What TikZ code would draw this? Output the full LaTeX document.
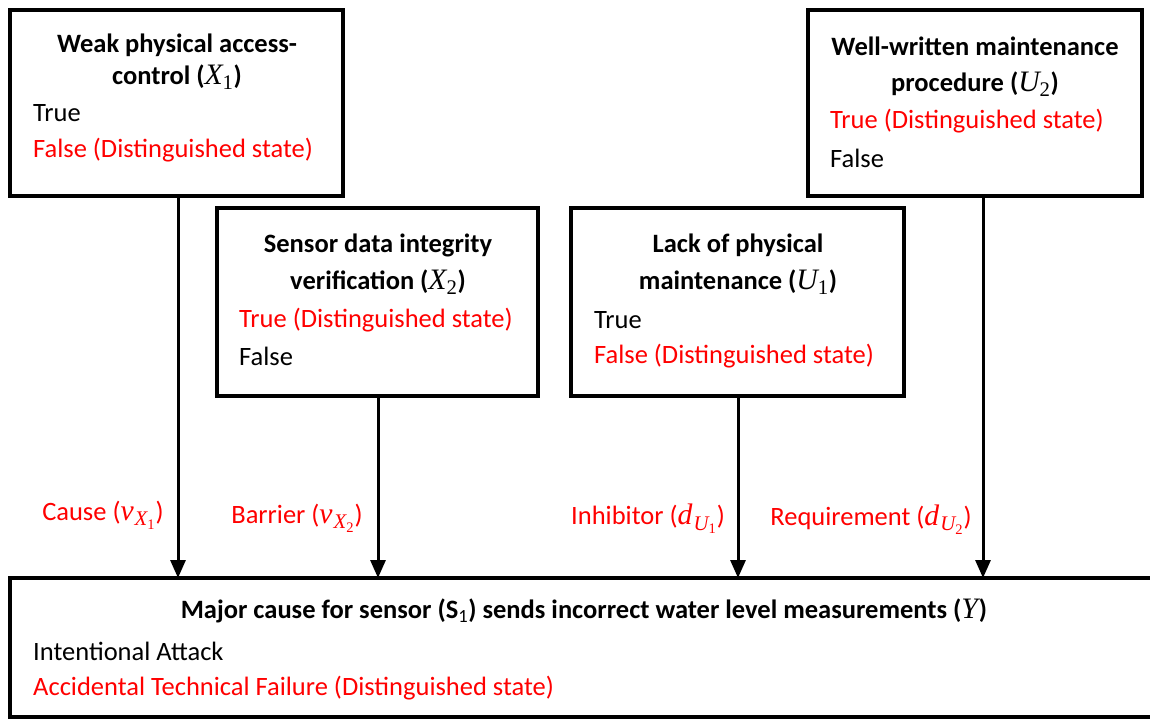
\documentclass[tikz,border=0pt]{standalone}
\usepackage{fontspec}
\setmainfont{Carlito}
\newfontfamily\cmbf[Scale=1.12]{Liberation Serif}
\usetikzlibrary{arrows.meta}
\definecolor{lblred}{RGB}{255,0,0}
\newcommand\mi[1]{{\cmbf\mdseries\itshape #1}}
\newcommand\mn[1]{{\cmbf\mdseries\upshape #1}}
\newcommand\mvar[2]{\mi{#1}\textsubscript{\mn{#2}}}
\newcommand\mvv[3]{\mi{#1}\kern1pt\textsubscript{\mi{#2}\textsubscript{\mn{#3}}}}
\begin{document}
\begin{tikzpicture}[x=1pt,y=-1pt,
  box/.style={draw=black,line width=4pt},
  ttl/.style={font=\fontsize{26.5}{30}\selectfont\bfseries,inner sep=0pt,anchor=center},
  st/.style={font=\fontsize{26.5}{30}\selectfont,inner sep=0pt,anchor=west},
  red/.style={text=lblred},
  lbl/.style={font=\fontsize{26.5}{30}\selectfont,inner sep=0pt,text=lblred,anchor=center},
  arr/.style={line width=3pt,-{Triangle[width=15pt,length=18pt]}}]
\useasboundingbox (0,0) rectangle (1150,721);
% boxes
\draw[box] (10,10) rectangle (343,196);
\draw[box] (217,208) rectangle (538,396);
\draw[box] (571,208) rectangle (904,396);
\draw[box] (808,10) rectangle (1142,196);
\draw[box] (10,578) rectangle (1160,717);
% coordinates for connectors
\coordinate (x1s) at (178,196); \coordinate (x1e) at (178,578);
\coordinate (x2s) at (378,396); \coordinate (x2e) at (378,578);
\coordinate (u1s) at (738,396); \coordinate (u1e) at (738,578);
\coordinate (u2s) at (983,196); \coordinate (u2e) at (983,578);
\draw[arr] (x1s) -- (x1e);
\draw[arr] (x2s) -- (x2e);
\draw[arr] (u1s) -- (u1e);
\draw[arr] (u2s) -- (u2e);
% X1
\node[ttl] (x1t1) at (177,45) {Weak physical access-};
\node[ttl] (x1t2) at (177,77) {control (\mvar{X}{1})};
\node[st] (x1a) at (33,113) {True};
\node[st,red] (x1b) at (33,150) {False (Distinguished state)};
% X2
\node[ttl] (x2t1) at (378,245) {Sensor data integrity};
\node[ttl] (x2t2) at (378,282) {verification (\mvar{X}{2})};
\node[st,red] (x2a) at (239,320) {True (Distinguished state)};
\node[st] (x2b) at (239,356) {False};
% U1
\node[ttl] (u1t1) at (738,245) {Lack of physical};
\node[ttl] (u1t2) at (738,282) {maintenance (\mvar{U}{1})};
\node[st] (u1a) at (594,320) {True};
\node[st,red] (u1b) at (594,356) {False (Distinguished state)};
% U2
\node[ttl] (u2t1) at (975,46) {Well-written maintenance};
\node[ttl] (u2t2) at (975,84) {procedure (\mvar{U}{2})};
\node[st,red] (u2a) at (830,121) {True (Distinguished state)};
\node[st] (u2b) at (830,158) {False};
% Y
\node[ttl] (yt) at (584,611) {Major cause for sensor (S\textsubscript{\mdseries 1}) sends incorrect water level measurements (\mi{Y\kern1pt})};
\node[st] (ya) at (33,651) {Intentional Attack};
\node[st,red] (yb) at (33,688) {Accidental Technical Failure (Distinguished state)};
% labels
\node[lbl] (l1) at (103,515) {Cause (\mvv{v}{X}{1})};
\node[lbl] (l2) at (297,518) {Barrier (\mvv{v}{X}{2})};
\node[lbl] (l3) at (648,519) {Inhibitor (\mvv{d}{U}{1})};
\node[lbl] (l4) at (871,520) {Requirement (\mvv{d}{U}{2})};
\end{tikzpicture}
\end{document}
